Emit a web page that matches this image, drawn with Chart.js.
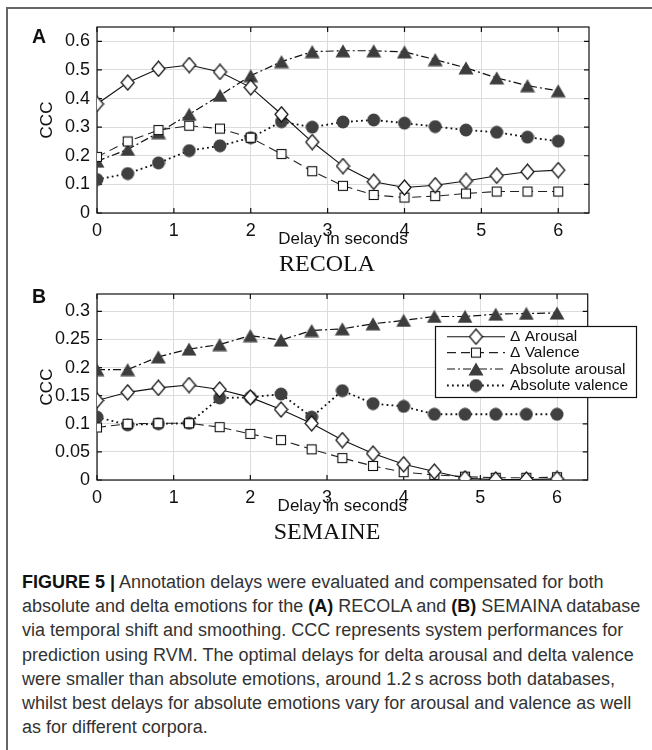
<!DOCTYPE html>
<html><head><meta charset="utf-8">
<script src="https://cdn.jsdelivr.net/npm/chart.js@4/dist/chart.umd.min.js"></script>
<style>
html,body{margin:0;padding:0;background:#fff;}
body{width:652px;height:750px;position:relative;overflow:hidden;font-family:"Liberation Sans",Arial,sans-serif;}
.fr{position:absolute;background:#666;}
canvas{position:absolute;left:0;}
#cA{top:0;}
#cB{top:267px;}
.pl{position:absolute;font-weight:bold;font-size:19.5px;line-height:20px;color:#111;}
.sub{position:absolute;left:227px;width:200px;text-align:center;font-family:"Liberation Serif","Times New Roman",serif;font-size:24px;line-height:24px;color:#111;}
.cap{position:absolute;left:22px;top:570px;font-size:18px;line-height:24.2px;color:#333;white-space:nowrap;}
.cap b{color:#111;}
</style></head>
<body>
<div class="fr" style="left:7px;top:7px;width:645px;height:1.5px;"></div>
<div class="fr" style="left:6px;top:7px;width:1.5px;height:743px;"></div>
<canvas id="cA" width="652" height="260"></canvas>
<canvas id="cB" width="652" height="260"></canvas>
<div class="pl" style="left:32px;top:26px;">A</div>
<div class="pl" style="left:32px;top:286px;">B</div>
<div class="sub" style="top:251px;">RECOLA</div>
<div class="sub" style="top:519px;">SEMAINE</div>
<div class="cap"><b>FIGURE 5 |</b> Annotation delays were evaluated and compensated for both<br>absolute and delta emotions for the <b>(A)</b> RECOLA and <b>(B)</b> SEMAINA database<br>via temporal shift and smoothing. CCC represents system performances for<br>prediction using RVM. The optimal delays for delta arousal and delta valence<br>were smaller than absolute emotions, around 1.2&thinsp;s across both databases,<br>whilst best delays for absolute emotions vary for arousal and valence as well<br>as for different corpora.</div>
<script>
// ---- data ----
const delays = [0,0.4,0.8,1.2,1.6,2.0,2.4,2.8,3.2,3.6,4.0,4.4,4.8,5.2,5.6,6.0];
const xTicks = [0,1,2,3,4,5,6];
const xTickLabels = ['0','1','2','3','4','5','6'];
const yTicksA = [0,0.1,0.2,0.3,0.4,0.5,0.6];
const yTickLabelsA = ['0','0.1','0.2','0.3','0.4','0.5','0.6'];
const yTicksB = [0,0.05,0.1,0.15,0.2,0.25,0.3];
const yTickLabelsB = ['0','0.05','0.1','0.15','0.2','0.25','0.3'];
const seriesLabels = ['\u0394 Arousal','\u0394 Valence','Absolute arousal','Absolute valence'];

const recolaDeltaArousal = [0.381,0.456,0.504,0.517,0.493,0.439,0.345,0.248,0.164,0.109,0.089,0.097,0.112,0.130,0.144,0.150];
const recolaDeltaValence = [0.196,0.250,0.290,0.305,0.295,0.263,0.206,0.146,0.095,0.063,0.054,0.059,0.068,0.075,0.075,0.075];
const recolaAbsArousal   = [0.181,0.222,0.281,0.345,0.411,0.480,0.529,0.564,0.567,0.567,0.563,0.536,0.507,0.472,0.445,0.427];
const recolaAbsValence   = [0.117,0.138,0.175,0.218,0.235,0.263,0.319,0.300,0.318,0.325,0.314,0.302,0.290,0.282,0.265,0.251];

const semaineDeltaArousal = [0.1415,0.156,0.164,0.169,0.161,0.147,0.1255,0.1007,0.071,0.047,0.028,0.015,0.003,0.001,0.001,0.002];
const semaineDeltaValence = [0.0935,0.100,0.101,0.101,0.094,0.082,0.071,0.0545,0.039,0.025,0.014,0.009,0.006,0.004,0.004,0.005];
const semaineAbsArousal   = [0.1965,0.1965,0.219,0.233,0.241,0.257,0.249,0.266,0.269,0.278,0.284,0.291,0.291,0.295,0.2965,0.297];
const semaineAbsValence   = [0.112,0.098,0.100,0.101,0.146,0.147,0.153,0.112,0.159,0.136,0.131,0.117,0.117,0.117,0.117,0.117];

// ---- markers ----
function marker(kind){
  const c=document.createElement('canvas');
  const g=c.getContext('2d');
  if(kind==='diamond'){c.width=15;c.height=17;g.beginPath();g.moveTo(7.5,1);g.lineTo(14,8.5);g.lineTo(7.5,16);g.lineTo(1,8.5);g.closePath();g.fillStyle='#fff';g.fill();g.strokeStyle='#111';g.lineWidth=1.2;g.stroke();}
  else if(kind==='square'){c.width=12;c.height=12;g.fillStyle='#fff';g.fillRect(1,1,10,10);g.strokeStyle='#111';g.lineWidth=1.1;g.strokeRect(1.5,1.5,9,9);}
  else if(kind==='triangle'){c.width=16;c.height=14;g.beginPath();g.moveTo(8,0.5);g.lineTo(15.5,13.5);g.lineTo(0.5,13.5);g.closePath();g.fillStyle='#3d3d3d';g.fill();}
  else {c.width=14;c.height=14;g.beginPath();g.arc(7,7,6.5,0,Math.PI*2);g.fillStyle='#404040';g.fill();}
  return c;
}
const styles=[
  {borderColor:'#111',borderWidth:1.1,borderDash:[],pointStyle:marker('diamond')},
  {borderColor:'#222',borderWidth:1.1,borderDash:[9,5],pointStyle:marker('square')},
  {borderColor:'#111',borderWidth:1.2,borderDash:[8,3,2,3],pointStyle:marker('triangle')},
  {borderColor:'#111',borderWidth:1.8,borderDash:[1.8,3.2],pointStyle:marker('circle')}
];

const frameTicks={
  id:'frameTicks',
  beforeDatasetsDraw(chart){
    const {ctx,chartArea:a,scales:{x,y}}=chart;
    ctx.save();
    ctx.strokeStyle='#111';ctx.lineWidth=1.2;
    ctx.strokeRect(a.left,a.top,a.right-a.left,a.bottom-a.top);
    ctx.beginPath();
    x.ticks.forEach(t=>{const p=x.getPixelForValue(t.value);ctx.moveTo(p,a.bottom);ctx.lineTo(p,a.bottom-5);ctx.moveTo(p,a.top);ctx.lineTo(p,a.top+5);});
    y.ticks.forEach(t=>{const p=y.getPixelForValue(t.value);ctx.moveTo(a.left,p);ctx.lineTo(a.left+5,p);ctx.moveTo(a.right,p);ctx.lineTo(a.right-5,p);});
    ctx.stroke();
    ctx.restore();
  }
};

const boxLegend={
  id:'boxLegend',
  afterDraw(chart,args,opts){
    if(!opts.show) return;
    const ctx=chart.ctx;
    ctx.save();
    ctx.fillStyle='#fff';ctx.fillRect(435,59,202,72);
    ctx.strokeStyle='#111';ctx.lineWidth=1.2;ctx.strokeRect(435.5,59.5,201,71);
    const rows=[69.7,85.6,102,118.5];
    chart.data.datasets.forEach((ds,i)=>{
      const yy=rows[i];
      ctx.strokeStyle=ds.borderColor;ctx.lineWidth=ds.borderWidth;ctx.setLineDash(ds.borderDash);
      ctx.beginPath();ctx.moveTo(447,yy);ctx.lineTo(505,yy);ctx.stroke();
      ctx.setLineDash([]);
      const m=ds.pointStyle;ctx.drawImage(m,476-m.width/2,yy-m.height/2);
      ctx.fillStyle='#111';ctx.font='15.5px "Liberation Sans", Arial, sans-serif';ctx.textBaseline='middle';ctx.textAlign='left';
      ctx.fillText(ds.label,510,yy+0.5);
    });
    ctx.restore();
  }
};

function build(id,series,yTicks,yLabels,yMax,right,showLegend){
  const font={family:'"Liberation Sans", Arial, sans-serif',size:17};
  const tfont={family:'"Liberation Sans", Arial, sans-serif',size:18};
  return new Chart(document.getElementById(id),{
    type:'line',
    data:{datasets:series.map((vals,i)=>Object.assign({
      label:seriesLabels[i],
      data:delays.map((d,k)=>({x:d,y:vals[k]})),
      fill:false,tension:0,pointRadius:7,pointHoverRadius:7
    },styles[i]))},
    options:{
      responsive:false,animation:false,events:[],
      layout:{padding:{left:37,right:right,top:27,bottom:10.5}},
      plugins:{legend:{display:false},tooltip:{enabled:false},boxLegend:{show:showLegend}},
      scales:{
        x:{type:'linear',min:0,max:6.4,
          afterBuildTicks(s){s.ticks=xTicks.map(v=>({value:v}));},
          afterFit(s){s.height=36.5;},
          ticks:{callback:(v,i)=>xTickLabels[i],font:tfont,color:'#111',padding:7,maxRotation:0},
          grid:{color:'#dcdcdc',lineWidth:1,drawTicks:false},
          border:{display:false},
          title:{display:true,text:'Delay in seconds',font,color:'#111',padding:{top:0,bottom:0}}
        },
        y:{type:'linear',min:0,max:yMax,
          afterBuildTicks(s){s.ticks=yTicks.map(v=>({value:v}));},
          afterFit(s){s.width=60;},
          ticks:{callback:(v,i)=>yLabels[i],font:tfont,color:'#111',padding:7},
          grid:{color:'#dcdcdc',lineWidth:1,drawTicks:false},
          border:{display:false},
          title:{display:true,text:'CCC',font,color:'#111',padding:{top:0,bottom:0}}
        }
      }
    },
    plugins:[frameTicks,boxLegend]
  });
}
build('cA',[recolaDeltaArousal,recolaDeltaValence,recolaAbsArousal,recolaAbsValence],yTicksA,yTickLabelsA,0.65,63,false);
build('cB',[semaineDeltaArousal,semaineDeltaValence,semaineAbsArousal,semaineAbsValence],yTicksB,yTickLabelsB,0.331,64.3,true);
</script>
</body></html>
